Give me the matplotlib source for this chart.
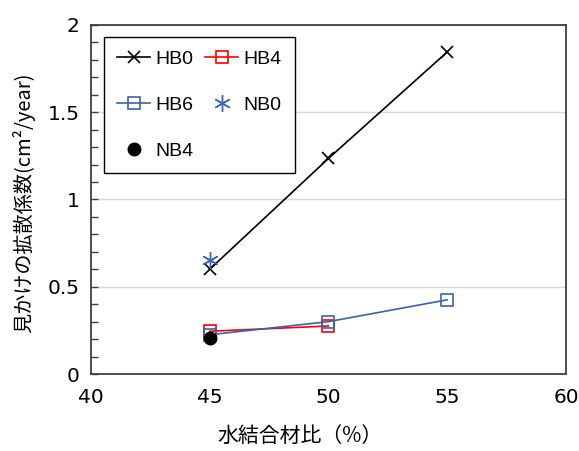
import matplotlib
matplotlib.use("Agg")
import matplotlib.pyplot as plt
from matplotlib.ticker import MultipleLocator
from matplotlib import font_manager

plt.rcParams['font.family'] = ['DejaVu Sans', 'Noto Sans CJK JP']

# data
wb_hb0 = [45, 50, 55]
hb0 = [0.60, 1.235, 1.845]
wb_hb4 = [45, 50]
hb4 = [0.245, 0.275]
wb_hb6 = [45, 50, 55]
hb6 = [0.225, 0.30, 0.425]
wb_nb0 = [45]
nb0 = [0.655]
wb_nb4 = [45]
nb4 = [0.205]

names = {f.name for f in font_manager.fontManager.ttflist}
leg_family = 'DejaVu Sans Condensed' if 'DejaVu Sans Condensed' in names else (
    'Liberation Sans Narrow' if 'Liberation Sans Narrow' in names else 'Liberation Sans')

fig = plt.figure(figsize=(5.79, 4.51), dpi=100)
ax = fig.add_axes([0.157, 0.1707, 0.8205, 0.774])

h0, = ax.plot(wb_hb0, hb0, color='black', lw=1.2, marker='x', ms=8, mew=1.2, label='HB0', zorder=3)
h4, = ax.plot(wb_hb4, hb4, color='#FF0000', lw=1.2, marker='s', ms=8, mfc='none', mew=1.2, label='HB4', zorder=3)
h6, = ax.plot(wb_hb6, hb6, color='#3A62AE', lw=1.2, marker='s', ms=8, mfc='none', mew=1.2, label='HB6', zorder=3)
n0, = ax.plot(wb_nb0, nb0, color='#3A62AE', ls='none', marker=(6, 2, 0), ms=12, mew=1.0, label='NB0', zorder=4)
n4, = ax.plot(wb_nb4, nb4, color='black', ls='none', marker='o', ms=9, label='NB4', zorder=4)

ax.set_xlim(40, 60)
ax.set_ylim(0, 2)
ax.xaxis.set_major_locator(MultipleLocator(5))
ax.yaxis.set_major_locator(MultipleLocator(0.5))
ax.yaxis.set_minor_locator(MultipleLocator(0.1))
ax.yaxis.set_major_formatter(matplotlib.ticker.FuncFormatter(lambda v, p: ('%g' % v)))
ax.tick_params(axis='y', which='major', direction='in', length=5, width=1, color='#404040', labelsize=14.5, pad=8)
ax.tick_params(axis='y', which='minor', direction='in', length=5, width=1, color='#404040')
ax.tick_params(axis='x', which='both', length=0, labelsize=14.5, pad=10)
ax.grid(axis='y', which='major', color='#d9d9d9', lw=1)
ax.set_axisbelow(True)
for s in ax.spines.values():
    s.set_color('#404040')
    s.set_linewidth(1.3)

ax.set_xlabel('水結合材比（%）', family=['Noto Sans CJK JP'], fontsize=15)
ax.xaxis.set_label_coords(0.44, -0.145)
ax.set_ylabel('見かけの拡散係数(cm²/year)', family=['Noto Sans CJK JP', 'DejaVu Sans'], fontsize=14.5)
ax.yaxis.set_label_coords(-0.118, 0.49)

leg = ax.legend([h0, h6, n4, h4, n0], ['HB0', 'HB6', 'NB4', 'HB4', 'NB0'],
                ncol=2, loc='upper left', bbox_to_anchor=(0.027, 0.966), borderaxespad=0,
                prop={'family': [leg_family, 'DejaVu Sans'], 'size': 14},
                handlelength=1.7, handletextpad=0.25, columnspacing=0.6,
                labelspacing=1.45, borderpad=0.7, fancybox=False, framealpha=1)
leg.get_frame().set_edgecolor('black')
leg.get_frame().set_linewidth(1.0)

fig.savefig('out.png', dpi=100)
